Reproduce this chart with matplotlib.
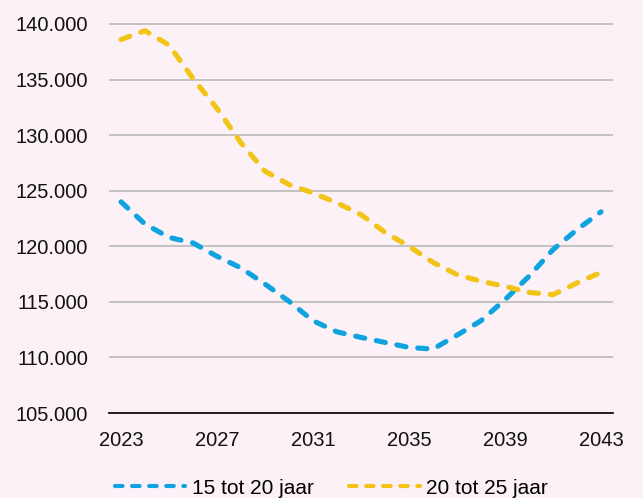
import matplotlib
matplotlib.use("Agg")
import matplotlib.pyplot as plt

years = list(range(2023, 2044))
age_15_20 = [124000, 122000, 120800, 120300, 119100, 118050, 116600, 115050,
             113300, 112300, 111800, 111350, 110900, 110750, 112000, 113300,
             115200, 117300, 119700, 121500, 123100]
age_20_25 = [138600, 139400, 138100, 135100, 132400, 129300, 126750, 125550,
             124800, 123900, 122850, 121250, 120000, 118550, 117450, 116850,
             116400, 115850, 115650, 116700, 117650]
labels = ["15 tot 20 jaar", "20 tot 25 jaar"]
xticks = [2023, 2027, 2031, 2035, 2039, 2043]
yticks = [105000, 110000, 115000, 120000, 125000, 130000, 135000, 140000]

bg = "#fcf1f6"
plt.rcParams['font.family'] = ['Liberation Sans', 'DejaVu Sans']

fig = plt.figure(figsize=(6.43, 4.98), dpi=100, facecolor=bg)
ax = fig.add_axes([109/643, 1-413/498, 504/643, 391/498])
ax.set_facecolor(bg)

for vals, col, lab in [(age_15_20, "#0fa3e0", labels[0]),
                       (age_20_25, "#f2c418", labels[1])]:
    ax.plot(years, vals, color=col, lw=3.7, dashes=(1.8, 2.3),
            dash_capstyle='round', solid_capstyle='round', label=lab)

ax.set_xlim(2022.5, 2043.5)
ax.set_ylim(105000, 140000 + 2/55.7*5000)
ax.set_xticks(xticks)
ax.set_yticks(yticks)
ax.set_yticklabels([f"{v:,}".replace(",", ".") for v in yticks])
ax.tick_params(axis='both', length=0, labelsize=14.5, colors='#111111')
ax.tick_params(axis='x', pad=13)
ax.tick_params(axis='y', pad=15)
ax.grid(axis='y', color='#bfbfbf', lw=1.3)
ax.set_axisbelow(True)
for s in ['top', 'right', 'left']:
    ax.spines[s].set_visible(False)
ax.spines['bottom'].set_color('#111111')
ax.spines['bottom'].set_linewidth(1.3)

leg = fig.legend(loc='center', bbox_to_anchor=(0.515, 1-488/498), ncol=2,
                 frameon=False, fontsize=15, handlelength=3.4,
                 handletextpad=0.3, columnspacing=1.7)
for h in leg.get_lines():
    h.set_linewidth(3)

fig.savefig("out.png", dpi=100, facecolor=bg)
